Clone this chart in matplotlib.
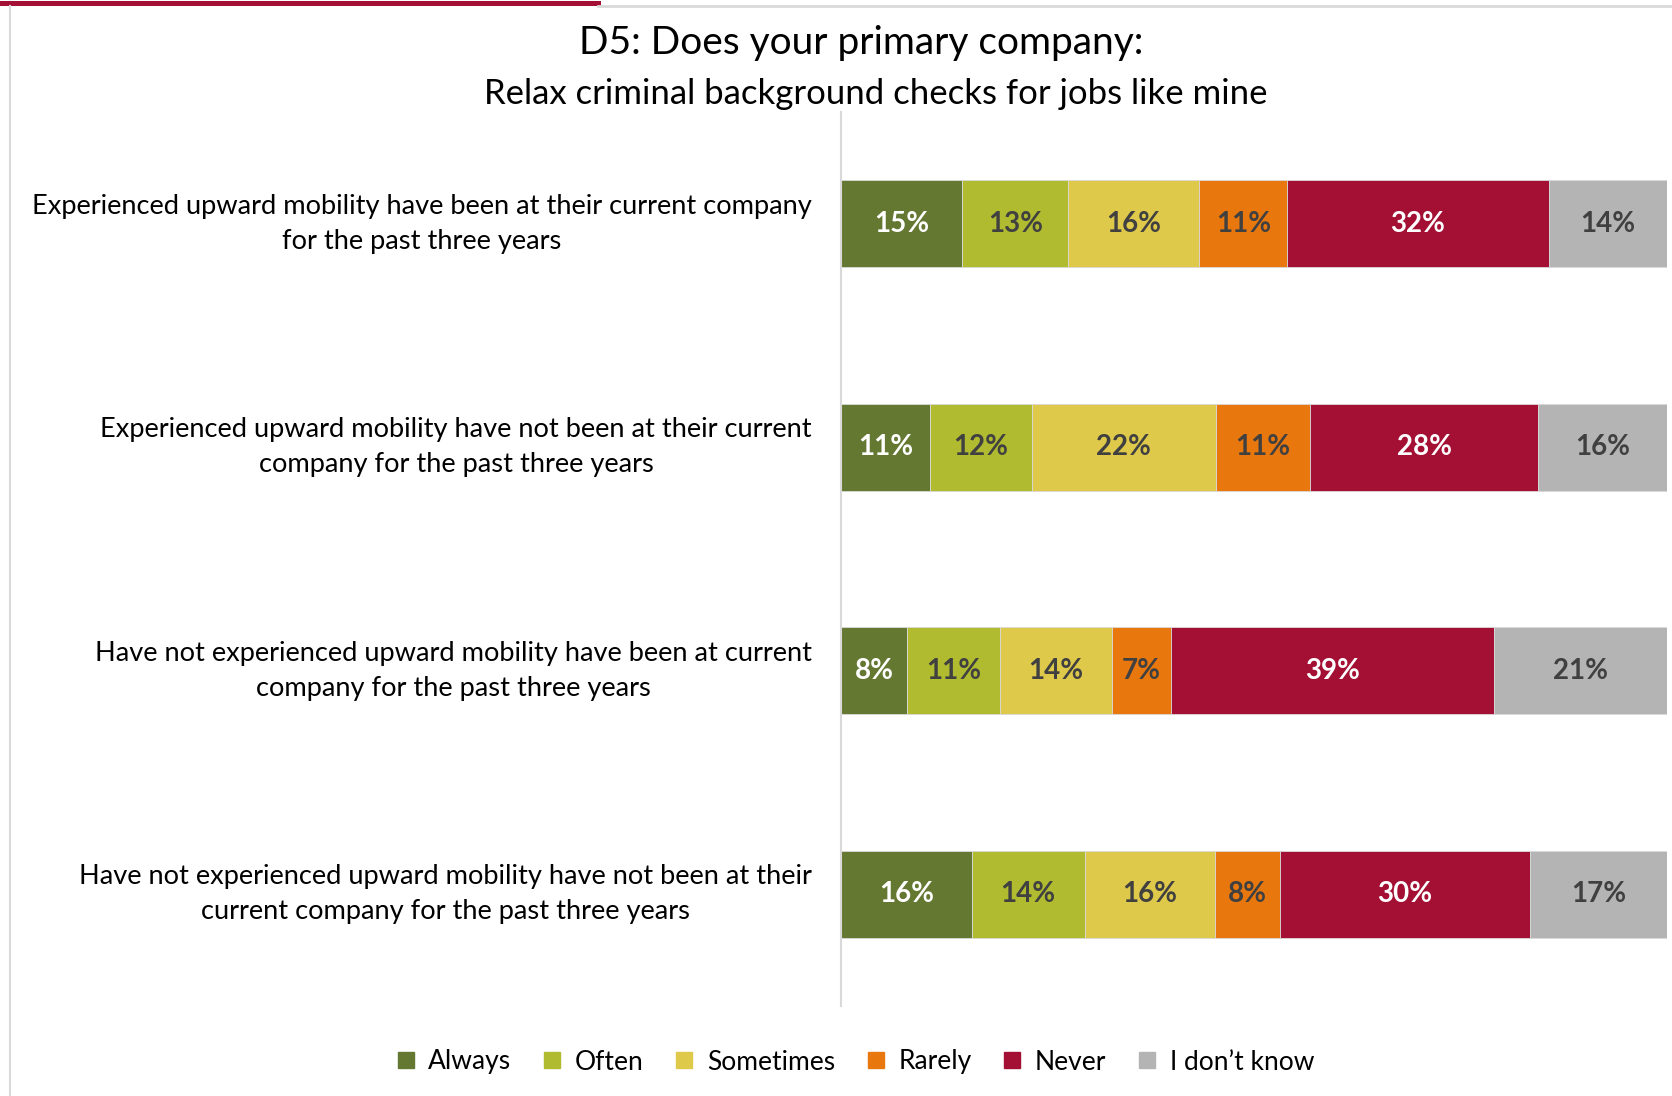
import numpy as np
import matplotlib.pyplot as plt
from matplotlib.lines import Line2D

plt.rcParams['font.family'] = ['Lato', 'DejaVu Sans']

# groups, top to bottom
groups = [
    "Experienced upward mobility have been at their current company\nfor the past three years",
    "Experienced upward mobility have not been at their current\ncompany for the past three years",
    "Have not experienced upward mobility have been at current\ncompany for the past three years",
    "Have not experienced upward mobility have not been at their\ncurrent company for the past three years",
]
answers = ["Always", "Often", "Sometimes", "Rarely", "Never", "I don\u2019t know"]

# shares (%) per answer, one value per group
always = [14.7, 10.8, 8.0, 15.8]
often = [12.8, 12.3, 11.2, 13.7]
sometimes = [15.9, 22.3, 13.6, 15.8]
rarely = [10.6, 11.4, 7.2, 7.9]
never = [31.7, 27.6, 39.1, 30.2]
dont_know = [14.3, 15.6, 20.9, 16.6]

colors = ['#647832', '#B0BB30', '#DFC94B', '#E8770E', '#A31034', '#B4B4B4']
label_colors = ['white', '#404040', '#404040', '#404040', 'white', '#404040']

fig = plt.figure(figsize=(16.72, 10.96), dpi=100)

# frame decorations of the slide
fig.add_artist(Line2D([0, 598 / 1672], [1 - 2.5 / 1096] * 2, color='#A31034', lw=3.6,
                      transform=fig.transFigure))
fig.add_artist(Line2D([598 / 1672, 1], [1 - 6 / 1096] * 2, color='#D9D9D9', lw=2,
                      transform=fig.transFigure))
fig.add_artist(Line2D([10 / 1672] * 2, [0, 1 - 6 / 1096], color='#D9D9D9', lw=1.5,
                      transform=fig.transFigure))

ax = fig.add_axes([841 / 1672, 1 - 1006 / 1096, 826 / 1672, 894 / 1096])

series = [always, often, sometimes, rarely, never, dont_know]
y = np.arange(len(groups))
left = np.zeros(len(groups))
for vals, name, c, lc in zip(series, answers, colors, label_colors):
    vals = np.array(vals)
    ax.barh(y, vals, left=left, height=0.39, color=c, edgecolor='#D9D9D9', linewidth=0.6,
            label=name)
    for yi, l, v in zip(y, left, vals):
        ax.text(l + v / 2, yi, f"{v:.0f}%", ha='center', va='center', color=lc,
                fontsize=20, fontweight='bold')
    left += vals

ax.set_xlim(0, 100)
ax.set_ylim(len(groups) - 0.5, -0.5)
ax.set_xticks([])
ax.set_yticks([])
for s in ['top', 'right', 'bottom']:
    ax.spines[s].set_visible(False)
ax.spines['left'].set_color('#D9D9D9')
ax.spines['left'].set_linewidth(1.5)

for yi, g in zip(y, groups):
    ax.text(-29 / 826 * 100, yi, g, ha='right', va='center', multialignment='center',
            fontsize=19.6, color='black', linespacing=1.5)

fig.text(861 / 1672, 1 - 43 / 1096, "D5: Does your primary company:", ha='center',
         va='center', fontsize=28)
fig.text(876 / 1672, 1 - 94 / 1096, "Relax criminal background checks for jobs like mine",
         ha='center', va='center', fontsize=25)

handles = [Line2D([], [], marker='s', color=c, linestyle='none', markersize=11)
           for c in colors]
fig.legend(handles, answers, loc='center', bbox_to_anchor=(856 / 1672, 1 - 1062 / 1096),
           ncol=6, frameon=False, fontsize=19, handlelength=0.6, handletextpad=0.55,
           columnspacing=1.25)

fig.savefig('out.png', dpi=100, facecolor='white')
